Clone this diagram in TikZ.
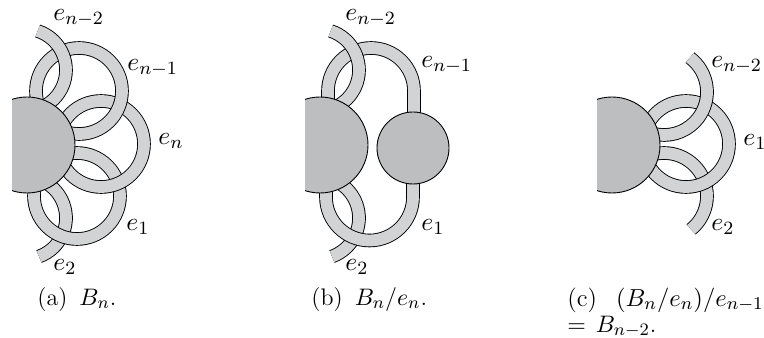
\documentclass[tikz,border=0pt]{standalone}
\definecolor{bandfill}{HTML}{D1D3D4}
\definecolor{discfill}{HTML}{BCBEC0}
\newcommand{\band}[1]{%
  \draw[line width=6.8pt,black,line cap=butt] #1;
  \draw[line width=5.9pt,bandfill,line cap=butt] #1;}
\newcommand{\ring}[2]{\band{(#1,#2) circle[radius=43]}}
\newcommand{\disc}[1]{%
  \begin{scope}
    \clip (#1-15,0) rectangle (#1+60,337);
    \fill[discfill,draw=black,line width=0.45pt] (#1,192) circle[radius=48];
  \end{scope}}
\tikzset{lab/.style={anchor=west,inner sep=0pt,scale=1.17,font=\fontsize{11}{13}\selectfont},
 captext/.style={anchor=base west,inner sep=0pt,scale=1.09,font=\fontsize{11}{13}\selectfont}}
\begin{document}
\begin{tikzpicture}[x=0.5pt,y=0.5pt]
\useasboundingbox (0,0) rectangle (764,337);
% (a)
\band{(25,119) ++(-70:41) arc[start angle=-70,end angle=60,radius=41]}
\ring{77}{141}
\ring{101}{193}
\ring{79}{246}
\band{(25,267) ++(72:41) arc[start angle=72,end angle=-60,radius=41]}
\disc{27}
\node[lab] (a1) at (53,319) {$e_{n-2}$};
\node[lab] (a2) at (127,269) {$e_{n-1}$};
\node[lab] (a3) at (158,196) {$e_{n}$};
\node[lab] (a4) at (126,110) {$e_{1}$};
\node[lab] (a5) at (53,70) {$e_{2}$};
\node[captext] (a6) at (37,32) {(a)\hspace{5.5pt}$B_n$.};
% (b)
\band{(318,119) ++(-70:41) arc[start angle=-70,end angle=60,radius=41]}
\band{(413,189) -- (413,140) arc[start angle=0,end angle=-180,radius=43.5] -- ++(0,15)}
\band{(414,189) -- (414,246) arc[start angle=0,end angle=180,radius=43] -- ++(0,-15)}
\band{(318,267) ++(72:41) arc[start angle=72,end angle=-60,radius=41]}
\disc{320}
\fill[discfill,draw=black,line width=0.45pt] (413,189) circle[radius=36];
\node[lab] (b1) at (345,319) {$e_{n-2}$};
\node[lab] (b2) at (421,272) {$e_{n-1}$};
\node[lab] (b4) at (421,110) {$e_{1}$};
\node[lab] (b5) at (345,70) {$e_{2}$};
\node[captext] (b6) at (311,32) {(b)\hspace{5.5pt}$B_n/e_n$.};
% (c)
\band{(664,141) ++(-51:43) arc[start angle=-51,end angle=160,radius=43]}
\ring{686}{193}
\band{(664,245) ++(53:43) arc[start angle=53,end angle=-150,radius=43]}
\disc{612}
\node[lab] (c1) at (711,272) {$e_{n-2}$};
\node[lab] (c2) at (743,195) {$e_{1}$};
\node[lab] (c3) at (711,110) {$e_{2}$};
\node[captext,scale=1.03] (c4) at (567,31) {(c)\hspace{8.5pt}$(B_n/e_n)/e_{n-1}$};
\node[captext] (c5) at (567,5) {$=$\hspace{4.5pt}$B_{n-2}$.};
\end{tikzpicture}
\end{document}
